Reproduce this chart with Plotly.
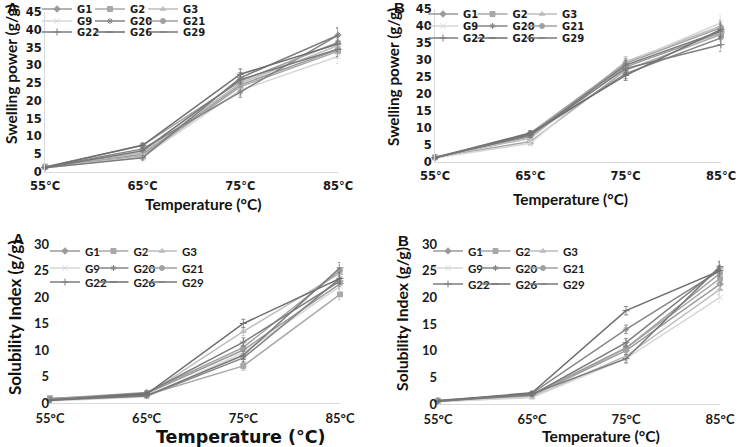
import plotly.graph_objects as go

W, H = 738, 447

temps = ["55°C", "65°C", "75°C", "85°C"]
genotypes = ["G1", "G2", "G3", "G9", "G20", "G21", "G22", "G26", "G29"]

# values per genotype (order as in genotypes), at 55, 65, 75, 85 °C
swelling_A = [
    [1.3, 5.0, 24.5, 34.5],
    [1.5, 4.5, 24.0, 34.0],
    [1.4, 5.5, 25.0, 35.5],
    [1.2, 4.2, 23.0, 32.5],
    [1.3, 6.5, 22.5, 38.5],
    [1.4, 7.5, 25.5, 36.5],
    [1.2, 4.0, 26.5, 38.5],
    [1.3, 7.5, 27.5, 36.0],
    [1.2, 6.0, 26.0, 34.5],
]
swelling_B = [
    [1.3, 7.5, 28.0, 38.0],
    [1.4, 6.0, 27.0, 37.5],
    [1.3, 7.0, 29.5, 40.0],
    [1.2, 5.5, 29.0, 41.0],
    [1.3, 8.0, 26.0, 36.5],
    [1.4, 8.5, 29.0, 39.5],
    [1.3, 8.0, 27.5, 34.5],
    [1.2, 8.5, 25.5, 39.0],
    [1.3, 8.0, 28.5, 38.5],
]
solubility_A = [
    [0.6, 1.8, 10.0, 22.5],
    [0.9, 1.5, 7.0, 20.5],
    [0.7, 1.6, 13.5, 24.5],
    [0.4, 1.2, 9.5, 22.0],
    [0.5, 1.3, 8.5, 23.5],
    [0.8, 2.0, 10.5, 25.0],
    [0.6, 1.9, 11.5, 23.0],
    [0.5, 1.7, 15.0, 23.5],
    [0.6, 1.4, 9.0, 25.5],
]
solubility_B = [
    [0.5, 1.6, 10.0, 22.5],
    [0.6, 1.5, 10.5, 23.5],
    [0.5, 1.3, 9.0, 21.5],
    [0.4, 1.2, 8.5, 20.0],
    [0.5, 2.0, 14.0, 25.0],
    [0.7, 1.8, 10.5, 24.5],
    [0.5, 1.7, 11.5, 25.5],
    [0.6, 2.1, 17.5, 25.0],
    [0.5, 1.9, 8.5, 25.8],
]
# approximate error bar half-widths per temperature
err_swelling_A = [0.3, 0.6, 1.5, 2.0]
err_swelling_B = [0.3, 0.7, 1.5, 2.0]
err_solubility_A = [0.2, 0.3, 0.8, 1.0]
err_solubility_B = [0.2, 0.3, 0.8, 1.0]

colors = ["#9a9a9a", "#a8a8a8", "#bdbdbd", "#d6d6d6", "#858585",
          "#a0a0a0", "#7d7d7d", "#6e6e6e", "#787878"]
symbols = ["diamond", "square", "triangle-up", "x-thin-open", "asterisk-open",
           "circle", "cross-thin-open", "line-ew-open", "line-ew-open"]
legend_row = [0, 0, 0, 1, 1, 1, 2, 2, 2]
legend_col = [0, 1, 2, 0, 1, 2, 0, 1, 2]


def px(x):
    return x / W


def py(y):
    return 1 - y / H


panels = [
    dict(data=swelling_A, err=err_swelling_A, xd=(45, 338), yd=(172, 12), yr=45,
         tickfam="DejaVu Sans", tickfs=11.5, legx=37, legy=(9, 21, 32), entw=8,
         legfam="DejaVu Sans", legfs=10, yline=True),
    dict(data=swelling_B, err=err_swelling_B, xd=(435, 721), yd=(162, 9), yr=45,
         tickfam="DejaVu Sans", tickfs=11.5, legx=423, legy=(14, 26, 38), entw=4.5,
         legfam="DejaVu Sans", legfs=10, yline=True),
    dict(data=solubility_A, err=err_solubility_A, xd=(50, 340), yd=(403, 244), yr=30,
         tickfam="Lato", tickfs=13, legx=45, legy=(251, 268, 282), entw=3.5,
         legfam="Lato", legfs=11.5, yline=False),
    dict(data=solubility_B, err=err_solubility_B, xd=(438, 720), yd=(404, 244), yr=30,
         tickfam="Lato", tickfs=13, legx=428, legy=(251, 268, 284), entw=2.5,
         legfam="Lato", legfs=11.5, yline=False),
]

fig = go.Figure()
layout = {}
for p, pan in enumerate(panels):
    sfx = "" if p == 0 else str(p + 1)
    xa, ya = "x" + sfx, "y" + sfx
    for g, name in enumerate(genotypes):
        lid_n = p * 3 + legend_row[g] + 1
        lid = "legend" if lid_n == 1 else f"legend{lid_n}"
        extra = dict(legendwidth=30) if legend_col[g] == 2 else {}
        fig.add_trace(go.Scatter(
            x=temps, y=pan["data"][g], name=name, mode="lines+markers",
            xaxis=xa, yaxis=ya, legend=lid, cliponaxis=False,
            line=dict(color=colors[g], width=1.5),
            marker=dict(symbol=symbols[g], size=5, color=colors[g],
                        line=dict(color=colors[g], width=1)),
            error_y=dict(type="data", array=pan["err"], color=colors[g],
                         thickness=0.8, width=2),
            **extra,
        ))
    for r in range(3):
        lid_n = p * 3 + r + 1
        lid = "legend" if lid_n == 1 else f"legend{lid_n}"
        layout[lid] = dict(
            x=px(pan["legx"]), xanchor="left", y=py(pan["legy"][r]), yanchor="middle",
            orientation="h", entrywidth=pan["entw"], entrywidthmode="pixels",
            bgcolor="rgba(0,0,0,0)", borderwidth=0, traceorder="normal",
            font=dict(family=pan["legfam"], size=pan["legfs"], color="#1a1a1a", weight="bold"),
        )
    layout["xaxis" + sfx] = dict(
        domain=[px(pan["xd"][0]), px(pan["xd"][1])], anchor=ya, type="category",
        range=[0, 3], showgrid=False, zeroline=False, showline=True,
        linecolor="#d9d9d9", linewidth=1, ticks="", automargin=False,
        ticklabelstandoff=3,
        tickfont=dict(family=pan["tickfam"], size=pan["tickfs"], color="#1a1a1a", weight="bold"),
    )
    layout["yaxis" + sfx] = dict(
        domain=[py(pan["yd"][0]), py(pan["yd"][1])], anchor=xa,
        range=[0, pan["yr"]], dtick=5, showgrid=False, zeroline=False,
        showline=pan["yline"], linecolor="#d9d9d9", linewidth=1, ticks="", automargin=False,
        tickfont=dict(family=pan["tickfam"], size=pan["tickfs"], color="#1a1a1a", weight="bold"),
    )

ann = []
titles_x = [("Temperature (°C)", 203, 204, "Lato", 15.5), ("Temperature (°C)", 570, 199, "Lato", 15.3),
            ("Temperature (°C)", 241, 437, "DejaVu Sans", 17.5), ("Temperature (°C)", 601, 436, "Lato", 15.7)]
for t, x, y, f, s in titles_x:
    ann.append(dict(text=t, x=px(x), y=py(y), xref="paper", yref="paper",
                    xanchor="center", yanchor="middle", showarrow=False,
                    font=dict(family=f, size=s, color="#111", weight="bold")))
titles_y = [("Swelling power (g/g)", 11, 74, 15.5), ("Swelling power (g/g)", 393, 77, 15.3),
            ("Solubility Index (g/g)", 14, 318, 17), ("Solubility Index (g/g)", 401, 319, 15.8)]
for t, x, y, s in titles_y:
    ann.append(dict(text=t, x=px(x), y=py(y), xref="paper", yref="paper",
                    xanchor="center", yanchor="middle", showarrow=False, textangle=-90,
                    font=dict(family="Lato", size=s, color="#111", weight="bold")))
letters = [("A", 12, 7), ("B", 400, 7), ("A", 18, 238), ("B", 403, 240)]
for t, x, y in letters:
    ann.append(dict(text=t, x=px(x), y=py(y), xref="paper", yref="paper",
                    xanchor="center", yanchor="middle", showarrow=False,
                    font=dict(family="Liberation Sans", size=15, color="#111", weight="bold")))

fig.update_layout(
    width=W, height=H, margin=dict(l=0, r=0, t=0, b=0, autoexpand=False),
    paper_bgcolor="white", plot_bgcolor="white", annotations=ann, **layout,
)
fig.write_html("out.html", config={"displayModeBar": False},
               post_script="document.body.style.margin='0';")
